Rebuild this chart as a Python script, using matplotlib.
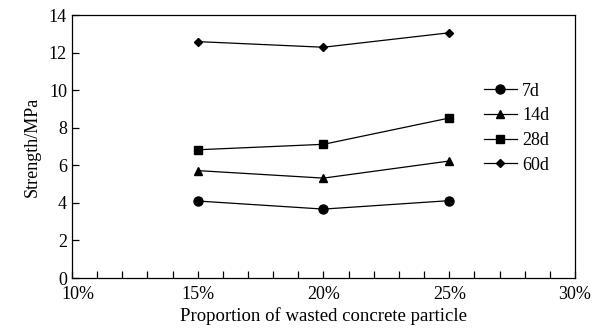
import matplotlib
matplotlib.use("Agg")
import matplotlib.pyplot as plt
from matplotlib.ticker import MultipleLocator, FuncFormatter

plt.rcParams['font.family'] = ['Liberation Serif', 'DejaVu Serif']

proportion = [15, 20, 25]
s7 = [4.10, 3.67, 4.12]
s14 = [5.72, 5.32, 6.23]
s28 = [6.83, 7.12, 8.52]
s60 = [12.59, 12.29, 13.06]
labels = ['7d', '14d', '28d', '60d']
markers = ['o', '^', 's', 'D']
sizes = [6.5, 6, 6, 4]

fig = plt.figure(figsize=(5.99, 3.29), dpi=100)
ax = fig.add_axes([0.120, 0.155, 0.840, 0.799])
for ys, lab, m, ms in zip([s7, s14, s28, s60], labels, markers, sizes):
    ax.plot(proportion, ys, color='black', lw=0.9, marker=m, ms=ms, label=lab)

xmin, xmax = 10, 30
ax.set_xlim(xmin, xmax)
ax.set_ylim(0, 14)
ax.xaxis.set_major_locator(MultipleLocator(5))
ax.xaxis.set_minor_locator(MultipleLocator(1))
ax.yaxis.set_major_locator(MultipleLocator(2))
ax.xaxis.set_major_formatter(FuncFormatter(lambda v, p: "" if abs(v - xmin) < 1e-9 else f"{int(v)}%"))
ax.tick_params(direction='in', labelsize=13, length=5, width=0.9, top=False, right=False)
ax.tick_params(axis='x', pad=6)
ax.tick_params(which='minor', direction='in', length=5, width=0.9, top=False, right=False)
for s in ax.spines.values():
    s.set_linewidth(0.9)
# first x tick label, nudged right as in the reference
ax.annotate(f"{xmin}%", xy=(xmin, 0), xycoords=('data', 'axes fraction'),
            xytext=(4.5, -6), textcoords='offset points', ha='center', va='top', fontsize=13)
ax.set_xlabel('Proportion of wasted concrete particle', fontsize=13.5, labelpad=3)
ax.set_ylabel('Strength/MPa', fontsize=13, labelpad=6)
ax.legend(loc='upper left', bbox_to_anchor=(0.805, 0.77), frameon=False, fontsize=13,
          handlelength=1.8, handletextpad=0.3, labelspacing=0.42, borderaxespad=0)
fig.savefig('out.png', dpi=100)
